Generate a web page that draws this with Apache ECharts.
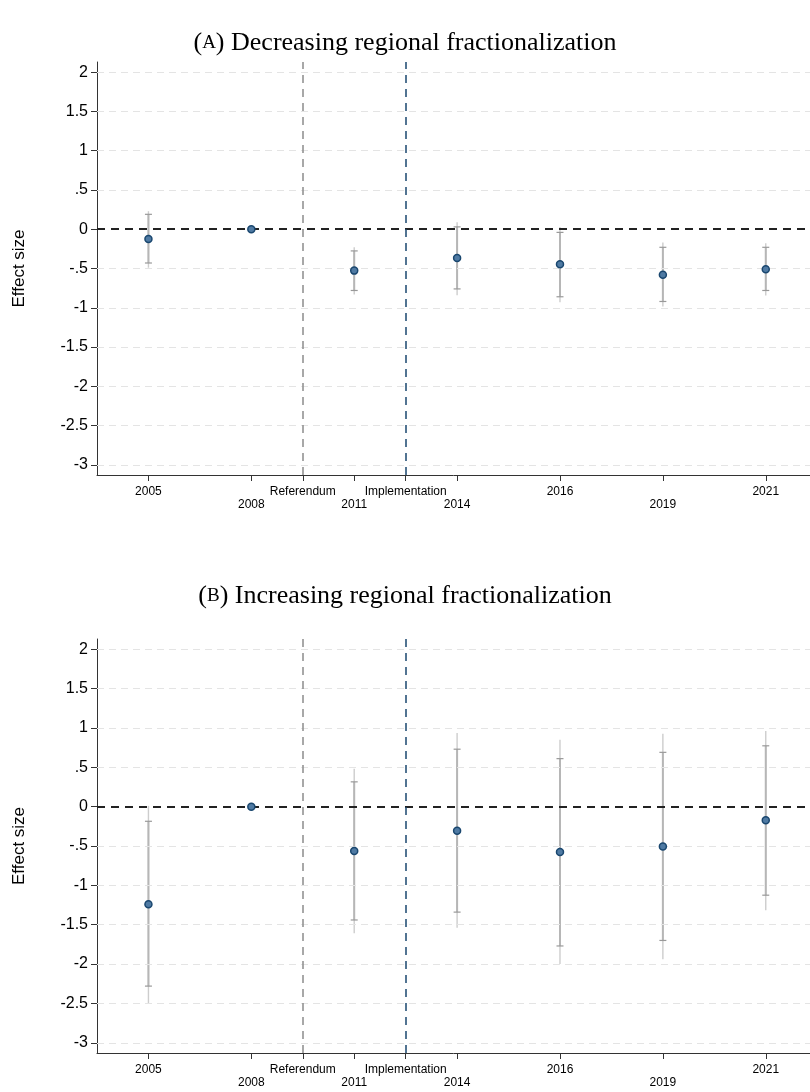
<!DOCTYPE html>
<html>
<head>
<meta charset="utf-8">
<script src="https://cdn.jsdelivr.net/npm/echarts@6/dist/echarts.min.js"></script>
<style>
  html, body { margin: 0; padding: 0; background: #fff; }
  #chart { width: 810px; height: 1092px; }
</style>
</head>
<body>
<div id="chart"></div>
<script>
// x positions of the ticks and their labels
const tickPos = [0, 2, 3, 4, 5, 6, 8, 10, 12]
const tickLabels = ['2005', '2008', 'Referendum', '2011', 'Implementation', '2014', '2016', '2019', '2021']
const upperRow = [0, 3, 5, 8, 12]
const lowerRow = [2, 4, 6, 10]
const yTicks = [-3, -2.5, -2, -1.5, -1, -0.5, 0, 0.5, 1, 1.5, 2]

// estimate positions (years)
const yearPos = [0, 2, 4, 6, 8, 10, 12]

// panel A: decreasing regional fractionalization
const estA = [-0.125, 0, -0.527, -0.365, -0.445, -0.58, -0.51]
const lo90A = [-0.43, 0, -0.78, -0.76, -0.86, -0.92, -0.78]
const hi90A = [0.19, 0, -0.276, 0.03, -0.04, -0.23, -0.23]
const lo95A = [-0.49, 0, -0.83, -0.84, -0.93, -0.985, -0.845]
const hi95A = [0.23, 0, -0.23, 0.09, 0.03, -0.17, -0.18]

// panel B: increasing regional fractionalization
const estB = [-1.24, 0, -0.565, -0.305, -0.577, -0.505, -0.174]
const lo90B = [-2.28, 0, -1.44, -1.34, -1.77, -1.70, -1.125]
const hi90B = [-0.186, 0, 0.315, 0.73, 0.61, 0.69, 0.773]
const lo95B = [-2.5, 0, -1.61, -1.54, -2.0, -1.94, -1.316]
const hi95B = [0.01, 0, 0.48, 0.935, 0.85, 0.926, 0.96]

const referendumX = 3
const implementationX = 5

const sans = 'Liberation Sans'
const serif = 'Liberation Serif'
const navy = '#1a476f'

function fmtY(v) {
    let s = String(v)
    return s.replace(/^0\./, '.').replace(/^-0\./, '-.')
}

function labelOf(v) {
    let i = tickPos.indexOf(v)
    return i < 0 ? '' : tickLabels[i]
}

function ciData(lo, hi) {
    let out = []
    yearPos.forEach((x, i) => {
        if (lo[i] !== hi[i]) out.push([x, lo[i], hi[i]])
    })
    return out
}

function ciRender(width, color, cap) {
    return function (params, api) {
        let x = api.value(0)
        let p1 = api.coord([x, api.value(1)])
        let p2 = api.coord([x, api.value(2)])
        let kids = [{
            type: 'line',
            shape: {x1: p1[0], y1: p1[1], x2: p2[0], y2: p2[1]},
            style: {stroke: color, lineWidth: width}
        }]
        if (cap) {
            [p1, p2].forEach((p) => {
                kids.push({
                    type: 'line',
                    shape: {x1: p[0] - 3.5, y1: p[1], x2: p[0] + 3.5, y2: p[1]},
                    style: {stroke: '#999', lineWidth: 1.2}
                })
            })
        }
        return {type: 'group', children: kids}
    }
}

function panelAxes(gridIndex) {
    let xMain = {
        type: 'value', gridIndex: gridIndex, min: -1, max: 12.86, position: 'bottom',
        axisLine: {show: true, onZero: false, lineStyle: {color: '#333', width: 1}},
        axisTick: {show: true, length: 6, customValues: tickPos, lineStyle: {color: '#333'}},
        axisLabel: {customValues: upperRow, formatter: labelOf, margin: 11,
            fontFamily: sans, fontSize: 12, color: '#000'},
        splitLine: {show: false}
    }
    let xLower = {
        type: 'value', gridIndex: gridIndex, min: -1, max: 12.86, position: 'bottom',
        axisLine: {show: false, onZero: false}, axisTick: {show: false},
        axisLabel: {customValues: lowerRow, formatter: labelOf, margin: 24,
            fontFamily: sans, fontSize: 12, color: '#000'},
        splitLine: {show: false}
    }
    let y = {
        type: 'value', gridIndex: gridIndex, min: -3.13, max: 2.13, position: 'left',
        name: 'Effect size', nameLocation: 'middle', nameRotate: 90, nameGap: 69,
        nameTextStyle: {fontFamily: sans, fontSize: 17, color: '#000'},
        axisLine: {show: true, onZero: false, lineStyle: {color: '#333', width: 1}},
        axisTick: {show: true, length: 6, customValues: yTicks, lineStyle: {color: '#333'}},
        axisLabel: {customValues: yTicks, formatter: fmtY, margin: 9,
            fontFamily: sans, fontSize: 16, color: '#000'},
        splitLine: {show: false}
    }
    return {x: [xMain, xLower], y: y}
}

function panelSeries(idx, est, lo90, hi90, lo95, hi95) {
    let xi = idx * 2
    let yi = idx
    return [
        {   // horizontal grid lines
            type: 'scatter', xAxisIndex: xi, yAxisIndex: yi, data: [], z: 1, silent: true,
            markLine: {
                symbol: 'none', silent: true, animation: false, label: {show: false},
                lineStyle: {color: '#e4e4e4', width: 1, type: [7, 5]},
                data: yTicks.filter((v) => v !== 0).map((v) => ({yAxis: v}))
            }
        },
        {   // reference lines
            type: 'scatter', xAxisIndex: xi, yAxisIndex: yi, data: [], z: 2, silent: true,
            markLine: {
                symbol: 'none', silent: true, animation: false, label: {show: false},
                data: [
                    {yAxis: 0, lineStyle: {color: '#222', width: 2, type: [8, 6]}},
                    {xAxis: referendumX, lineStyle: {color: '#8c8c8c', width: 1.5, type: [8, 6]}},
                    {xAxis: implementationX, lineStyle: {color: navy, width: 1.5, type: [8, 6]}}
                ]
            }
        },
        {
            type: 'custom', xAxisIndex: xi, yAxisIndex: yi, z: 3,
            renderItem: ciRender(1.4, '#cdcdcd', false),
            data: ciData(lo95, hi95), animation: false
        },
        {
            type: 'custom', xAxisIndex: xi, yAxisIndex: yi, z: 4,
            renderItem: ciRender(2, '#b6b6b6', true),
            data: ciData(lo90, hi90), animation: false
        },
        {
            type: 'scatter', xAxisIndex: xi, yAxisIndex: yi, z: 5,
            symbol: 'circle', symbolSize: 7,
            itemStyle: {color: '#4f7aa3', borderColor: navy, borderWidth: 1.5, opacity: 1},
            data: yearPos.map((x, i) => [x, est[i]]), animation: false
        }
    ]
}

const chart = echarts.init(document.getElementById('chart'))
const axA = panelAxes(0)
const axB = panelAxes(1)

const titleRich = {
    p: {fontFamily: serif, fontSize: 26, fontWeight: 'normal', color: '#000'},
    sc: {fontFamily: serif, fontSize: 19, fontWeight: 'normal', color: '#000'}
}

const option = {
    animation: false,
    backgroundColor: '#fff',
    title: [
        {text: '{p|(}{sc|A}{p|) Decreasing regional fractionalization}', left: 'center', top: 25,
            textStyle: {fontWeight: 'normal', rich: titleRich}},
        {text: '{p|(}{sc|B}{p|) Increasing regional fractionalization}', left: 'center', top: 578,
            textStyle: {fontWeight: 'normal', rich: titleRich}}
    ],
    grid: [
        {left: 97, right: 0, top: 62, height: 413},
        {left: 97, right: 0, top: 639, height: 414}
    ],
    xAxis: axA.x.concat(axB.x),
    yAxis: [axA.y, axB.y],
    series: panelSeries(0, estA, lo90A, hi90A, lo95A, hi95A)
        .concat(panelSeries(1, estB, lo90B, hi90B, lo95B, hi95B))
}

chart.setOption(option)
</script>
</body>
</html>
